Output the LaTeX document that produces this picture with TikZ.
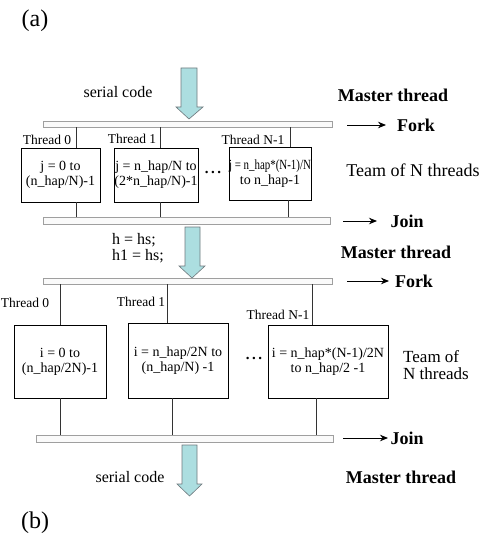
\documentclass[tikz,border=0pt]{standalone}
\usepackage{fontspec}
\setmainfont{Liberation Serif}
\usetikzlibrary{arrows.meta}
\definecolor{arrowfill}{RGB}{172,222,224}
\definecolor{arrowline}{RGB}{110,120,125}
\begin{document}
\begin{tikzpicture}[x=1pt,y=-1pt,
  tbox/.style={draw, line width=0.8pt, align=center, inner sep=0pt,
    font=\fontsize{14}{14}\selectfont},
  bar/.style={draw=gray!75, fill=gray!4, line width=0.6pt, inner sep=0pt},
  lbl/.style={font=\fontsize{13.5}{15}\selectfont, inner sep=0pt},
  boldlbl/.style={font=\fontsize{18}{20}\selectfont\bfseries, inner sep=0pt},
  big/.style={font=\fontsize{18}{21}\selectfont, inner sep=0pt},
  tline/.style={line width=0.5pt, black!80},
  farrow/.style={line width=0.9pt, -{Stealth[length=8pt,width=6.5pt]}},
  blockarrow/.style={fill=arrowfill, draw=arrowline, line width=0.6pt}
]
\useasboundingbox (0,0) rectangle (487,540);

% ---------- labels (a)/(b)
\node[font=\fontsize{24}{26}\selectfont, inner sep=0pt] (la) at (35,21) {(a)};
\node[font=\fontsize{24}{26}\selectfont, inner sep=0pt] (lb) at (35,523) {(b)};

% ---------- part 1
\node[big, font=\fontsize{16}{18}\selectfont] (sc1) at (118,92) {serial code};
\node[boldlbl] (mt1) at (393,95) {Master thread};
\draw[blockarrow] (181,68) -- (197,68) -- (197,107) -- (203,107) -- (189,119) -- (176,107) -- (181,107) -- cycle;

\node[bar, minimum width=289pt, minimum height=6pt] (f1) at (187.5,124) {};
\coordinate (f1a) at (347,125);
\coordinate (f1b) at (386,125);
\draw[farrow] (f1a) -- (f1b);
\node[boldlbl] (fork1) at (416,125) {Fork};

\node[tbox, minimum width=79pt, minimum height=54pt] (a0) at (60.5,175)
  {j = 0 to\\[1pt](n\_hap/N)-1};
\node[tbox, minimum width=84pt, minimum height=54pt] (a1) at (156,175)
  {j = n\_hap/N to\\[1pt](2*n\_hap/N)-1};
\node[tbox, minimum width=74pt, minimum height=53pt] (a2) at (270,173.5)
  {\scalebox{0.78}[1]{j = n\_hap*(N-1)/N}\\[1pt]to n\_hap-1};
\node[lbl, font=\fontsize{15}{15}\selectfont\bfseries] (dots1) at (213,172) {.\,.\,.};

\node[lbl] (ta0) at (47,140) {Thread 0};
\node[lbl] (ta1) at (132,139) {Thread 1};
\node[lbl] (ta2) at (253,140) {Thread N-1};

\coordinate (xa0) at (76,0);
\coordinate (xa1) at (160,0);
\coordinate (xa2) at (290,0);
\coordinate (ya2) at (288,0);
\draw[tline] (xa0 |- f1.south) -- (xa0 |- a0.north);
\draw[tline] (xa1 |- f1.south) -- (xa1 |- a1.north);
\draw[tline] (xa2 |- f1.south) -- (xa2 |- a2.north);

\node[big] (team1) at (413,170) {Team of N threads};

\node[bar, minimum width=287pt, minimum height=7pt] (j1) at (186.5,220.5) {};
\draw[tline] (xa0 |- a0.south) -- (xa0 |- j1.north);
\draw[tline] (xa1 |- a1.south) -- (xa1 |- j1.north);
\draw[tline] (ya2 |- a2.south) -- (ya2 |- j1.north);
\coordinate (j1a) at (343,221);
\coordinate (j1b) at (377,221);
\draw[farrow] (j1a) -- (j1b);
\node[boldlbl] (join1) at (407,221) {Join};

% ---------- middle
\node[big, anchor=west, align=left, font=\fontsize{16}{15.5}\selectfont] (hh) at (112,248) {h = hs;\\h1 = hs;};
\node[boldlbl] (mt2) at (396,252) {Master thread};
\draw[blockarrow] (185,227) -- (200,227) -- (200,266) -- (205,266) -- (192,278) -- (179,266) -- (185,266) -- cycle;

% ---------- part 2
\node[bar, minimum width=289pt, minimum height=6pt] (f2) at (187.5,281) {};
\coordinate (f2a) at (347,281);
\coordinate (f2b) at (389,281);
\draw[farrow] (f2a) -- (f2b);
\node[boldlbl] (fork2) at (414,281) {Fork};

\node[tbox, minimum width=92pt, minimum height=73pt] (b0) at (60,361.5)
  {i = 0 to\\[1pt](n\_hap/2N)-1};
\node[tbox, minimum width=100pt, minimum height=75pt] (b1) at (178,360.5)
  {i = n\_hap/2N to\\[1pt](n\_hap/N) -1};
\node[tbox, minimum width=120pt, minimum height=73pt] (b2) at (328,361.5)
  {i = n\_hap*(N-1)/2N\\[1pt]to n\_hap/2 -1};
\node[lbl, font=\fontsize{15}{15}\selectfont\bfseries] (dots2) at (254,358) {.\,.\,.};

\node[lbl] (tb0) at (25,303) {Thread 0};
\node[lbl] (tb1) at (141,302) {Thread 1};
\node[lbl] (tb2) at (278,315) {Thread N-1};

\coordinate (xb0) at (60,0);
\coordinate (xb1) at (167,0);
\coordinate (xb2) at (312,0);
\coordinate (yb1) at (172,0);
\coordinate (yb2) at (316,0);
\draw[tline] (xb0 |- f2.south) -- (xb0 |- b0.north);
\draw[tline] (xb1 |- f2.south) -- (xb1 |- b1.north);
\draw[tline] (xb2 |- f2.south) -- (xb2 |- b2.north);

\node[big, anchor=west, align=left, font=\fontsize{17}{17.5}\selectfont] (team2) at (403,365) {Team of\\N threads};

\node[bar, minimum width=297pt, minimum height=7pt] (j2) at (184.5,438.5) {};
\draw[tline] (xb0 |- b0.south) -- (xb0 |- j2.north);
\draw[tline] (yb1 |- b1.south) -- (yb1 |- j2.north);
\draw[tline] (yb2 |- b2.south) -- (yb2 |- j2.north);
\coordinate (j2a) at (343,438);
\coordinate (j2b) at (388,438);
\draw[farrow] (j2a) -- (j2b);
\node[boldlbl] (join2) at (407,438) {Join};

\node[boldlbl] (mt3) at (401,477) {Master thread};
\node[big, font=\fontsize{16}{18}\selectfont] (sc2) at (130,477) {serial code};
\draw[blockarrow] (182,445) -- (197,445) -- (197,484) -- (202,484) -- (189.5,496) -- (177,484) -- (182,484) -- cycle;

\end{tikzpicture}
\end{document}
